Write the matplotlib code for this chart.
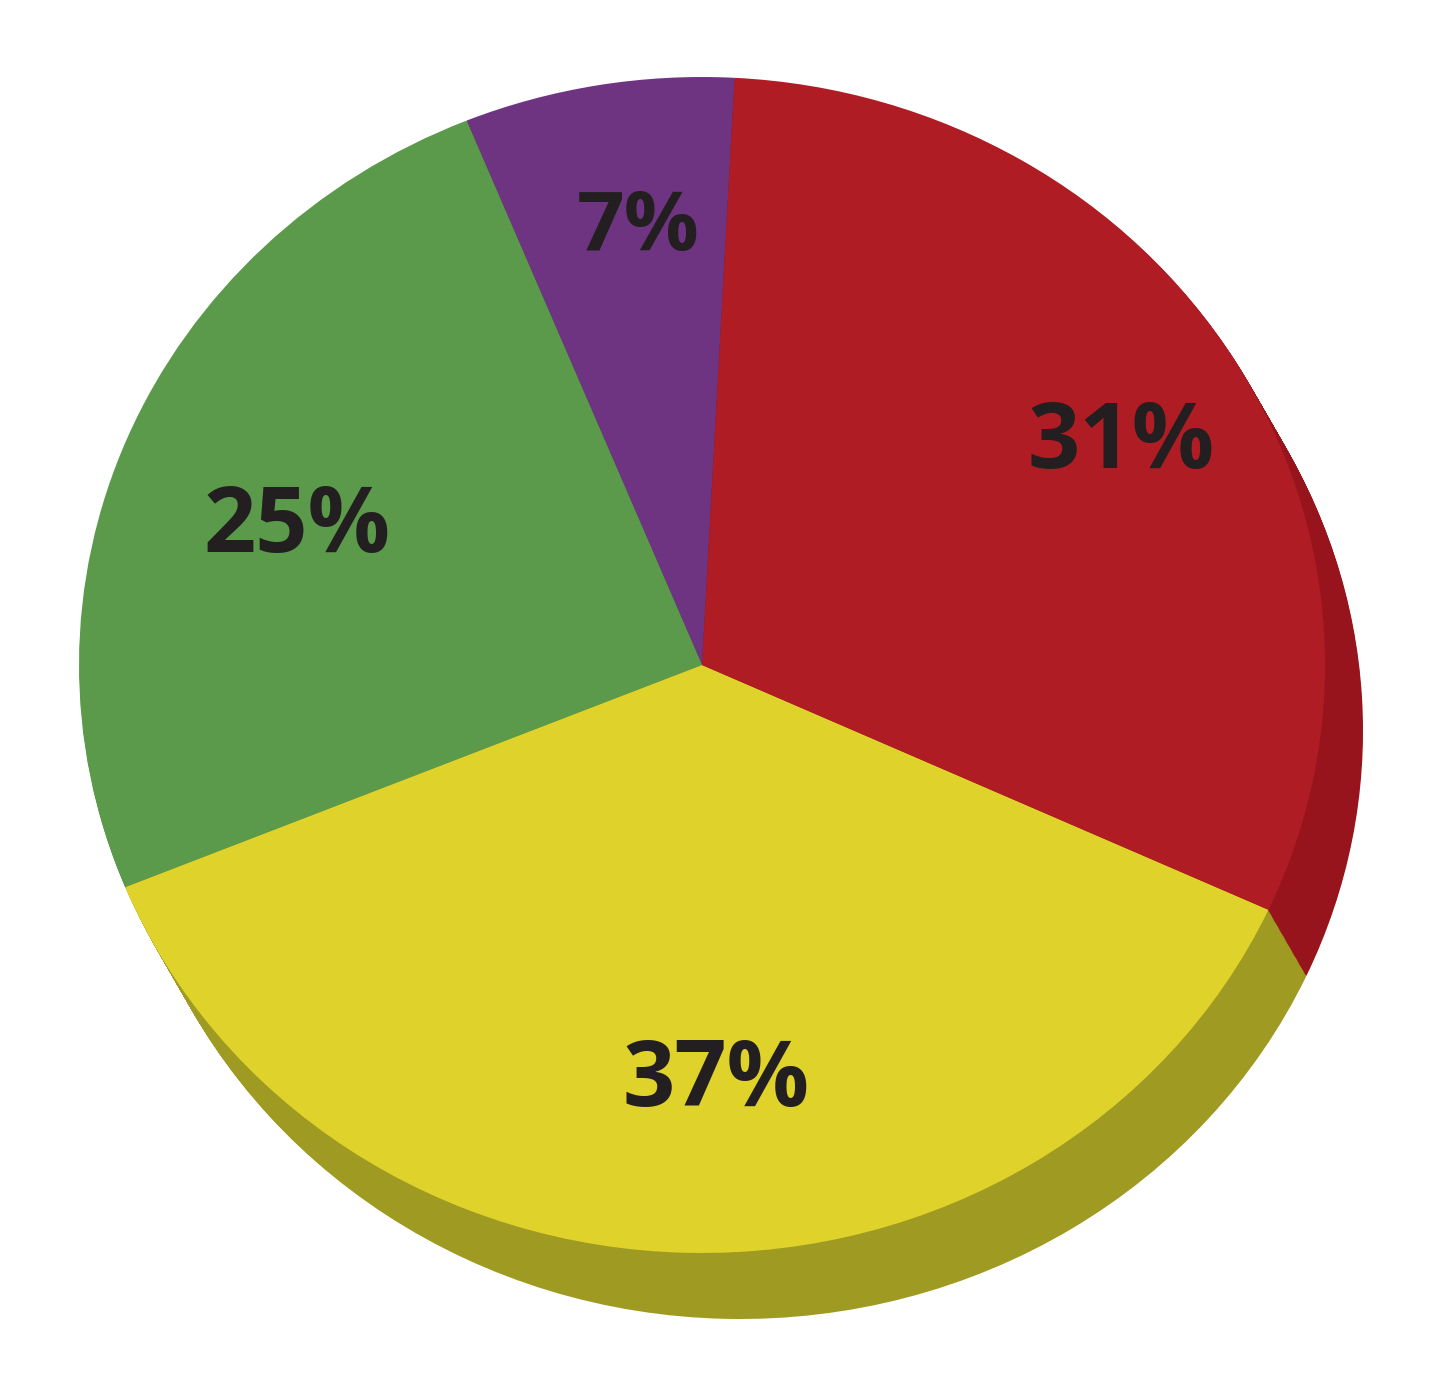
"""Extruded (pseudo-3D) pie chart of four shares, saved as out.png."""

import matplotlib
import numpy as np

matplotlib.use("Agg")
import matplotlib.pyplot as plt  # noqa: E402

# data (order = counter-clockwise from the top)
SHARES = [7, 25, 37, 31]
TOP_COLORS = ["#6e3482", "#5a9a4a", "#dfd22a", "#b01c24"]
SIDE_COLORS = ["#4e2460", "#3f6e34", "#9f9a22", "#98141c"]
LABEL_SIZES = [60, 66, 66, 66]
LABEL_DIST = [0.75, 0.69, 0.71, 0.77]
LABEL_TURN = [-1.7, 3.0, 3.0, -2.0]  # degrees off the wedge middle

START_ANGLE = 87
DEPTH_X, DEPTH_Y = 38, 66  # extrusion, in pixels (right, down)
RADIUS_X, RADIUS_Y = 623, 588  # top face half-axes, in pixels
CENTER_X, CENTER_Y = 702, 665  # pie centre, pixels from top-left
WIDTH, HEIGHT = 1442, 1388
N_LAYERS = 60


def main() -> None:
    fig = plt.figure(figsize=(WIDTH / 100, HEIGHT / 100), dpi=100)
    ax = fig.add_axes([0, 0, 1, 1])

    # side of the disc: stacked copies, deepest first
    for i in range(N_LAYERS, 0, -1):
        f = i / N_LAYERS
        ax.pie(
            SHARES,
            colors=SIDE_COLORS,
            startangle=START_ANGLE,
            counterclock=True,
            center=(f * DEPTH_X / RADIUS_X, -f * DEPTH_Y / RADIUS_Y),
            wedgeprops={"linewidth": 0, "antialiased": True},
        )

    # top face with labels
    wedges, _, autotexts = ax.pie(
        SHARES,
        colors=TOP_COLORS,
        startangle=START_ANGLE,
        counterclock=True,
        autopct=lambda p: f"{p:.0f}%",
        wedgeprops={"linewidth": 0, "antialiased": True},
        textprops={
            "family": ["Open Sans", "DejaVu Sans"],
            "fontweight": "bold",
            "color": "#231f20",
        },
    )
    for wedge, text, size, dist, turn in zip(
        wedges, autotexts, LABEL_SIZES, LABEL_DIST, LABEL_TURN
    ):
        mid = np.deg2rad((wedge.theta1 + wedge.theta2) / 2 + turn)
        text.set_position((dist * np.cos(mid), dist * np.sin(mid)))
        text.set_fontsize(size)

    ax.set_aspect("auto")
    ax.set_xlim(-CENTER_X / RADIUS_X, (WIDTH - CENTER_X) / RADIUS_X)
    ax.set_ylim(-(HEIGHT - CENTER_Y) / RADIUS_Y, CENTER_Y / RADIUS_Y)
    ax.axis("off")

    fig.savefig("out.png", dpi=100, facecolor="white")
    plt.close(fig)


if __name__ == "__main__":
    main()
